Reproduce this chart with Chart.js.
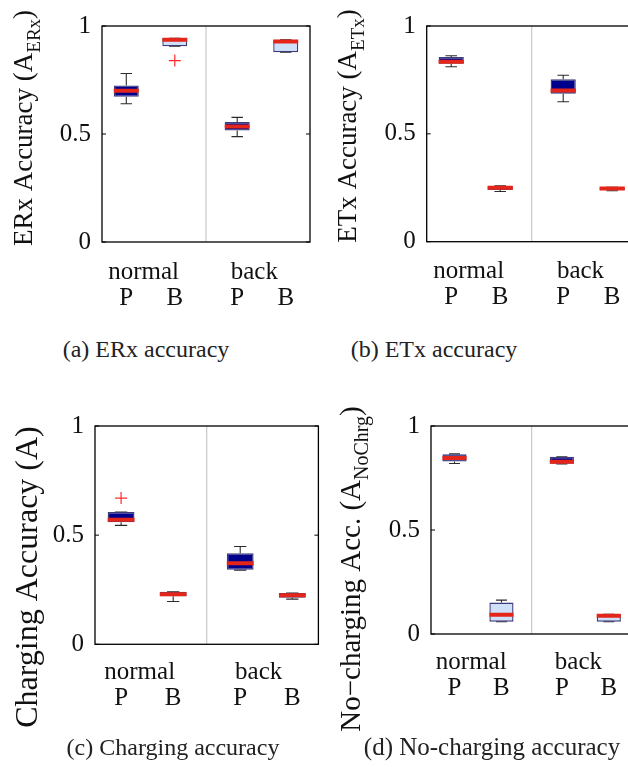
<!DOCTYPE html>
<html>
<head>
<meta charset="utf-8">
<script src="https://cdn.jsdelivr.net/npm/chart.js@4"></script>
<style>
html, body { margin: 0; padding: 0; background: #fff; overflow: hidden; }
body { width: 628px; height: 767px; position: relative; }
canvas { position: absolute; }
.cap { position: absolute; font-family: 'Liberation Serif', 'Times New Roman', serif; font-size: 24px; color: #222; white-space: nowrap; transform: translateX(-50%); }
</style>
</head>
<body>
<canvas id="erx" width="320" height="320" style="left:0;top:0"></canvas>
<canvas id="etx" width="320" height="320" style="left:320px;top:0"></canvas>
<canvas id="chrg" width="330" height="345" style="left:0;top:400px"></canvas>
<canvas id="nochrg" width="320" height="345" style="left:320px;top:400px"></canvas>
<div class="cap" style="left:146px;top:336px">(a) ERx accuracy</div>
<div class="cap" style="left:434px;top:336px">(b) ETx accuracy</div>
<div class="cap" style="left:173px;top:734px">(c) Charging accuracy</div>
<div class="cap" style="left:492px;top:733px;font-size:25px">(d) No-charging accuracy</div>
<script>
const GROUP_LABELS = ['normal', 'back'];
const METHOD_LABELS = ['P', 'B', 'P', 'B'];
const Y_TICKS = [0, 0.5, 1];

// ERx accuracy: whisker low, Q1, median, Q3, whisker high, outliers
const erxLow  = [0.640, 0.906, 0.488, 0.879];
const erxQ1   = [0.672, 0.906, 0.516, 0.879];
const erxMed  = [0.700, 0.936, 0.535, 0.928];
const erxQ3   = [0.725, 0.943, 0.555, 0.936];
const erxHigh = [0.780, 0.943, 0.577, 0.936];
const erxOut  = [[], [0.840], [], []];

// ETx accuracy
const etxLow  = [0.811, 0.233, 0.649, 0.236];
const etxQ1   = [0.825, 0.240, 0.686, 0.240];
const etxMed  = [0.834, 0.250, 0.701, 0.247];
const etxQ3   = [0.856, 0.258, 0.753, 0.251];
const etxHigh = [0.862, 0.259, 0.772, 0.252];
const etxOut  = [[], [], [], []];

// charging accuracy
const chrgLow  = [0.545, 0.196, 0.340, 0.207];
const chrgQ1   = [0.559, 0.220, 0.341, 0.213];
const chrgMed  = [0.570, 0.229, 0.371, 0.225];
const chrgQ3   = [0.606, 0.241, 0.417, 0.235];
const chrgHigh = [0.606, 0.241, 0.448, 0.235];
const chrgOut  = [[0.670], [], [], []];

// no-charging accuracy
const noLow  = [0.820, 0.059, 0.818, 0.059];
const noQ1   = [0.829, 0.059, 0.818, 0.059];
const noMed  = [0.846, 0.092, 0.828, 0.088];
const noQ3   = [0.864, 0.151, 0.852, 0.095];
const noHigh = [0.866, 0.163, 0.852, 0.095];
const noOut  = [[], [], [], []];

// layout on the x axis (0..4, groups split at 2)
const BOX_POS = [0.467, 1.4, 2.6, 3.533];
const GROUP_POS = [0.8, 2.93];
const SPLIT = 2;
const BOX_W = 0.48;
const CAP_W = 0.22;

const FONT = "'Liberation Serif', 'Times New Roman', serif";
const NAVY = '#00008c';
const LIGHT = '#cfe0fb';
const EDGE = '#3b3b7a';
const RED = '#e4261a';
const WHISKER = '#2b2b2b';
const TEXT = '#111';

Chart.defaults.font.family = FONT;
Chart.defaults.color = TEXT;

// two label rows on one axis: group names on top, P/B underneath
const X_TICKS = [];
GROUP_POS.forEach((v, i) => X_TICKS.push({value: v, label: [GROUP_LABELS[i], '']}));
BOX_POS.forEach((v, i) => X_TICKS.push({value: v, label: ['', METHOD_LABELS[i]]}));
X_TICKS.sort((a, b) => a.value - b.value);

const frame = {
  id: 'frame',
  afterDatasetsDraw(chart) {
    const {ctx, chartArea: a, scales: {y}} = chart;
    ctx.save();
    ctx.strokeStyle = '#000';
    ctx.lineWidth = 1.3;
    ctx.strokeRect(a.left, a.top, a.right - a.left, a.bottom - a.top);
    ctx.lineWidth = 1;
    Y_TICKS.forEach(v => {
      const py = y.getPixelForValue(v);
      ctx.beginPath();
      ctx.moveTo(a.left, py); ctx.lineTo(a.left + 4, py);
      ctx.moveTo(a.right, py); ctx.lineTo(a.right - 4, py);
      ctx.stroke();
    });
    ctx.restore();
  }
};

// rotated axis title with an optional subscript
const yTitle = {
  id: 'yTitle',
  afterDraw(chart, args, o) {
    const ctx = chart.ctx;
    const big = o.size + 'px ' + FONT;
    const small = o.subSize + 'px ' + FONT;
    ctx.save();
    ctx.translate(o.x, o.y);
    ctx.rotate(-Math.PI / 2);
    ctx.font = big;
    const w1 = ctx.measureText(o.text).width;
    const w3 = o.tail ? ctx.measureText(o.tail).width : 0;
    ctx.font = small;
    const w2 = o.sub ? ctx.measureText(o.sub).width : 0;
    let x = -(w1 + w2 + w3) / 2;
    ctx.fillStyle = TEXT;
    ctx.textBaseline = 'alphabetic';
    ctx.font = big;
    ctx.fillText(o.text, x, 0);
    x += w1;
    if (o.sub) { ctx.font = small; ctx.fillText(o.sub, x, o.subShift); x += w2; }
    if (o.tail) { ctx.font = big; ctx.fillText(o.tail, x, 0); }
    ctx.restore();
  }
};

function boxDatasets(low, q1, med, q3, high, outs, boxPx) {
  const whisk = [], mid = [], pts = [];
  BOX_POS.forEach((x, i) => {
    whisk.push({x, y: q3[i]}, {x, y: high[i]}, {x, y: null});
    whisk.push({x: x - CAP_W / 2, y: high[i]}, {x: x + CAP_W / 2, y: high[i]}, {x, y: null});
    whisk.push({x, y: q1[i]}, {x, y: low[i]}, {x, y: null});
    whisk.push({x: x - CAP_W / 2, y: low[i]}, {x: x + CAP_W / 2, y: low[i]}, {x, y: null});
    mid.push({x: x - BOX_W / 2, y: med[i]}, {x: x + BOX_W / 2, y: med[i]}, {x, y: null});
    outs[i].forEach(v => pts.push({x, y: v}));
  });
  return [
    {type: 'line', order: 5, data: [{x: SPLIT, y: 0}, {x: SPLIT, y: 1}],
     borderColor: '#c9c9c9', borderWidth: 1.2, pointRadius: 0},
    {type: 'line', order: 4, data: whisk, borderColor: WHISKER, borderWidth: 1.1,
     pointRadius: 0, spanGaps: false},
    {type: 'bar', order: 3, data: BOX_POS.map((x, i) => ({x, y: [q1[i], q3[i]]})),
     backgroundColor: METHOD_LABELS.map(m => m === 'P' ? NAVY : LIGHT),
     borderColor: EDGE, borderWidth: 1.4, borderSkipped: false, inflateAmount: 0,
     barThickness: boxPx, grouped: false},
    {type: 'line', order: 2, data: mid, borderColor: RED, borderWidth: 4,
     pointRadius: 0, spanGaps: false, borderCapStyle: 'butt'},
    {type: 'scatter', order: 1, data: pts, pointStyle: 'cross', pointRadius: 6,
     borderColor: '#ff2a2a', borderWidth: 1.2, backgroundColor: '#ff2a2a'}
  ];
}

function makePanel(id, plot, stats, title) {
  const canvas = document.getElementById(id);
  const W = canvas.width, H = canvas.height;
  const boxPx = BOX_W * (plot.r - plot.l) / 4;
  const xRow = 76;
  new Chart(canvas, {
    type: 'bar',
    data: {datasets: boxDatasets(...stats, boxPx)},
    plugins: [frame, yTitle],
    options: {
      responsive: false,
      animation: false,
      events: [],
      layout: {padding: {left: 0, top: plot.t, right: W - plot.r, bottom: H - plot.b - xRow}},
      plugins: {legend: {display: false}, tooltip: {enabled: false}, yTitle: title},
      scales: {
        x: {
          type: 'linear', min: 0, max: 4, offset: false,
          grid: {display: false, drawTicks: false}, border: {display: false},
          afterBuildTicks: s => { s.ticks = X_TICKS.map(t => ({value: t.value})); },
          afterFit: s => { s.height = xRow; },
          ticks: {autoSkip: false, maxRotation: 0, minRotation: 0, padding: plot.xPad,
                  font: {size: 25, lineHeight: 1.04},
                  callback: (v, i) => X_TICKS[i].label}
        },
        y: {
          type: 'linear', min: 0, max: 1,
          grid: {display: false, drawTicks: false}, border: {display: false},
          afterBuildTicks: s => { s.ticks = Y_TICKS.map(v => ({value: v})); },
          afterFit: s => { s.width = plot.l; },
          ticks: {padding: 11, font: {size: 25}, callback: v => String(v)}
        }
      }
    }
  });
}

makePanel('erx', {l: 102, t: 19, r: 310, b: 242, xPad: 17},
  [erxLow, erxQ1, erxMed, erxQ3, erxHigh, erxOut],
  {text: 'ERx Accuracy (A', sub: 'ERx', tail: ')', x: 32, y: 128, size: 27, subSize: 19, subShift: 8});

makePanel('etx', {l: 106.7, t: 16.7, r: 316.7, b: 241.7, xPad: 17},
  [etxLow, etxQ1, etxMed, etxQ3, etxHigh, etxOut],
  {text: 'ETx Accuracy (A', sub: 'ETx', tail: ')', x: 36, y: 126, size: 27, subSize: 19, subShift: 8});

makePanel('chrg', {l: 95, t: 17.3, r: 318.4, b: 244.3, xPad: 15},
  [chrgLow, chrgQ1, chrgMed, chrgQ3, chrgHigh, chrgOut],
  {text: 'Charging Accuracy (A)', x: 37, y: 177, size: 32, subSize: 19, subShift: 8});

makePanel('nochrg', {l: 111, t: 17.3, r: 312.3, b: 234, xPad: 15},
  [noLow, noQ1, noMed, noQ3, noHigh, noOut],
  {text: 'No\u2212charging Acc. (A', sub: 'NoChrg', tail: ')', x: 40, y: 169, size: 29, subSize: 20, subShift: 8});
</script>
</body>
</html>
